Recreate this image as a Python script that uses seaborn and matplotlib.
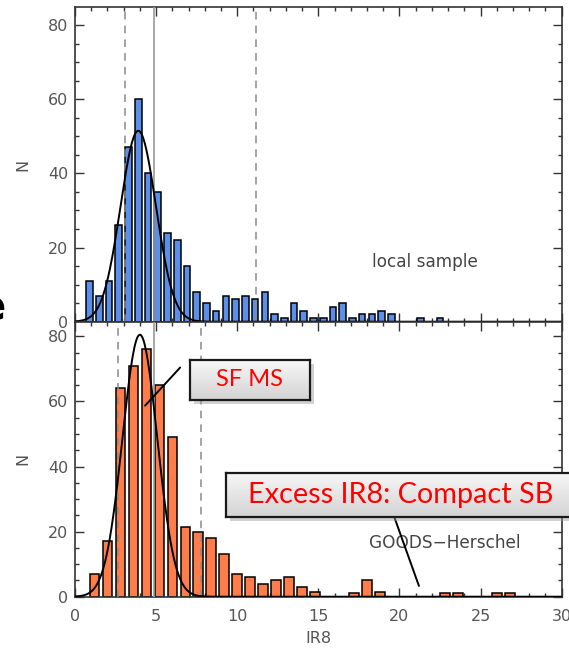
import numpy as np
import pandas as pd
import seaborn as sns
import matplotlib
matplotlib.use("Agg")
import matplotlib.pyplot as plt
from matplotlib.patches import Rectangle
from matplotlib.ticker import MultipleLocator

# ---------------- data ----------------
local_bin_start = 0.6
local_bin_width = 0.6
local_counts = [11, 7, 11, 26, 47, 60, 40, 35, 24, 22, 15, 8, 5, 3, 7, 6, 7, 6, 8, 2,
                1, 5, 3, 1, 1, 4, 5, 1, 2, 2, 3, 2, 0, 0, 1, 0, 1]

goods_bin_start = 0.8
goods_bin_width = 0.8
goods_counts = [7, 17, 64, 71, 76, 65, 49, 21.5, 20, 18, 13, 7, 6, 4, 5, 6, 3, 1.5, 0, 0,
                1, 5, 1.5, 0, 0, 0, 0, 1, 1, 0, 0, 1, 1]

local_fit = {"amp": 51.5, "mu": 3.9, "sigma": 1.09}
goods_fit = {"amp": 80.5, "mu": 4.0, "sigma": 1.07}

local_dashed = [3.09, 11.17]
local_solid = [4.9]
goods_dashed = [2.67, 7.78]
goods_solid = [4.9]

x_ticks = [0, 5, 10, 15, 20, 25, 30]
y_ticks = [0, 20, 40, 60, 80]

local_label = "local sample"
goods_label = "GOODS\u2212Herschel"
x_label = "IR8"
y_label = "N"
box1_text = "SF MS"
box2_text = "Excess IR8: Compact SB"

# ---------------- style ----------------
sns.set_theme(style="white")
plt.rcParams["font.family"] = ["DejaVu Sans"]
blue = "#5B8FEA"
orange = "#FF7D4B"
axcol = "#333333"
txtcol = "#555555"

fig = plt.figure(figsize=(5.69, 6.5), dpi=100)
ax_top = fig.add_axes([0.1318, 0.5051, 0.8554, 0.4837])
ax_bot = fig.add_axes([0.1318, 0.0820, 0.8554, 0.4231])


def draw_panel(ax, start, width, counts, color, shrink, fit, dashed, solid, ymax):
    counts = np.asarray(counts, dtype=float)
    n = len(counts)
    centers = start + width * (np.arange(n) + 0.5)
    df = pd.DataFrame({"x": centers, "n": counts})
    df = df[df["n"] > 0]
    sns.histplot(data=df, x="x", weights="n", binwidth=width,
                 binrange=(start, start + width * n), shrink=shrink,
                 color=color, edgecolor="black", linewidth=1.1, alpha=1.0, ax=ax)
    xf = np.linspace(0, 30, 601)
    yf = fit["amp"] * np.exp(-0.5 * ((xf - fit["mu"]) / fit["sigma"]) ** 2)
    sns.lineplot(x=xf, y=yf, color="black", linewidth=1.4, ax=ax, zorder=4)
    for v in dashed:
        ax.axvline(v, color="#8a8a8a", linestyle=(0, (5, 4)), linewidth=1.1, zorder=3)
    for v in solid:
        ax.axvline(v, color="#9a9a9a", linestyle="-", linewidth=1.2, zorder=3)
    ax.set_xlim(0, 30)
    ax.set_ylim(0, ymax)
    ax.set_xticks(x_ticks)
    ax.set_yticks(y_ticks)
    ax.xaxis.set_minor_locator(MultipleLocator(1))
    ax.yaxis.set_minor_locator(MultipleLocator(5))
    ax.tick_params(which="both", direction="in", top=True, right=True,
                   bottom=True, left=True, color=axcol, width=1.0,
                   labelcolor=txtcol, labelsize=11.5)
    ax.tick_params(which="major", length=6.5)
    ax.tick_params(which="minor", length=3.2)
    ax.tick_params(axis="y", pad=5)
    ax.tick_params(axis="x", pad=9)
    for s in ax.spines.values():
        s.set_color(axcol)
        s.set_linewidth(1.2)
    ax.set_ylabel(y_label, color=txtcol, fontsize=11.5)
    ax.yaxis.set_label_coords(-0.092, 0.5)
    ax.grid(False)


draw_panel(ax_top, local_bin_start, local_bin_width, local_counts, blue, 0.68,
           local_fit, local_dashed, local_solid, 84.8)
draw_panel(ax_bot, goods_bin_start, goods_bin_width, goods_counts, orange, 0.74,
           goods_fit, goods_dashed, goods_solid, 84.5)

ax_top.tick_params(axis="x", labelbottom=False)
ax_top.set_xlabel("")
ax_bot.set_xlabel(x_label, color=txtcol, fontsize=11.5)
ax_bot.xaxis.set_label_coords(0.5, -0.125)

ax_top.text(21.6, 16.1, local_label, color="#444444", fontsize=12.2,
            ha="center", va="center")
ax_bot.text(22.8, 16.4, goods_label, color="#444444", fontsize=12.2,
            ha="center", va="center")

# pointer lines
ax_bot.plot([6.48, 4.32], [70.4, 58.7], color="black", linewidth=1.4, zorder=5)
ax_bot.plot([19.7, 21.2], [24.2, 3.3], color="black", linewidth=1.4, zorder=5)

# annotation boxes with gradient fill
W, H = 569.0, 650.0


def add_box(x0, y0, x1, y1, text, fsize, tx):
    l, r = x0 / W, x1 / W
    b, t = (H - y1) / H, (H - y0) / H
    fig.patches.append(Rectangle((l + 4 / W, b - 4 / H), r - l, t - b,
                                 transform=fig.transFigure, facecolor="#9a9a9a",
                                 edgecolor="none", alpha=0.45, zorder=10))
    bx = fig.add_axes([l, b, r - l, t - b], zorder=11)
    grad = np.linspace(0, 1, 64).reshape(-1, 1)
    bx.imshow(grad, aspect="auto", cmap=matplotlib.colors.LinearSegmentedColormap.from_list(
        "g", ["#f7f7f7", "#d3d3d3"]), extent=(0, 1, 0, 1), origin="upper")
    bx.set_xticks([])
    bx.set_yticks([])
    for s in bx.spines.values():
        s.set_color("#1a1a1a")
        s.set_linewidth(1.6)
        s.set_visible(True)
    bx.text((tx - x0) / (x1 - x0), 0.5, text, color="#ff0000", fontsize=fsize,
            family="Lato", ha="center", va="center", transform=bx.transAxes)
    return bx


add_box(190, 360, 310, 400, box1_text, 17, 250)
add_box(226, 473, 610, 517, box2_text, 20.8, 401)

fig.text(-0.016, 0.525, "e", fontsize=30, fontweight="bold", color="black",
         ha="center", va="center")

fig.savefig("out.png", dpi=100)
